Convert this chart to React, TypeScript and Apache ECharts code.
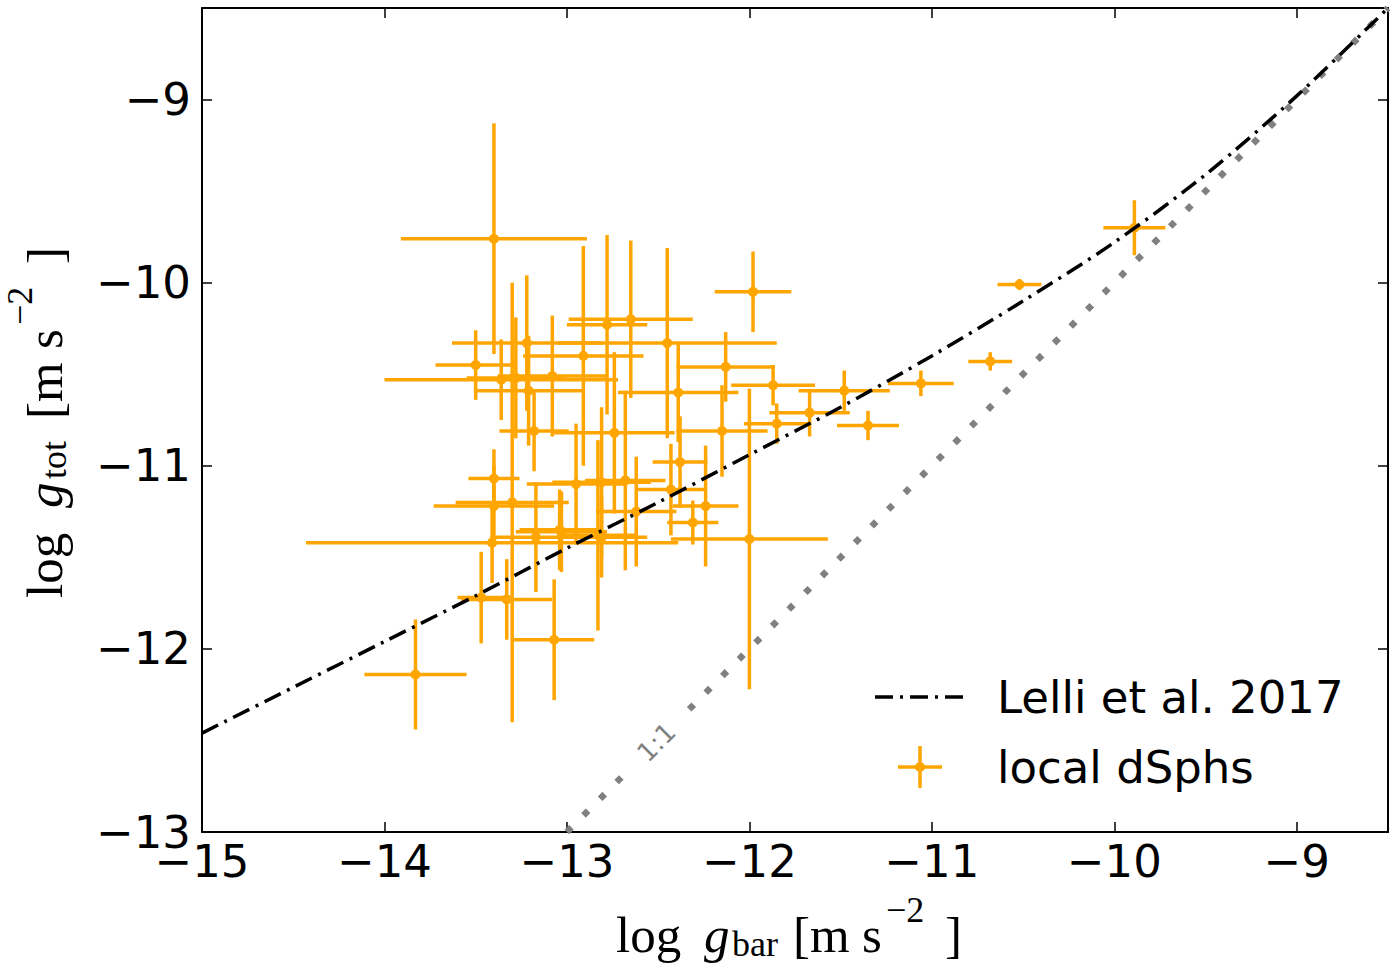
import React, { useEffect, useRef } from "react";
import * as echarts from "echarts";

// ---- axis ticks ----
const xTickValues = [-15, -14, -13, -12, -11, -10, -9];
const yTickValues = [-13, -12, -11, -10, -9];

// ---- local dSphs (log g_bar, log g_tot, errors) ----
const dsphLogGbar = [
  -13.40, -11.98, -10.52, -9.89, -10.68, -11.06, -11.48, -11.35, -11.67, -11.87,
  -11.85, -12.15, -12.13, -13.50, -13.22, -12.45, -12.65, -12.91, -12.78, -12.39,
  -13.08, -13.28, -13.21, -13.36, -13.18, -12.74, -13.40, -13.30, -13.40, -12.95,
  -12.81, -12.68, -12.43, -12.38, -12.24, -12.31, -12.00, -13.03, -13.41, -12.81,
  -13.17, -13.47, -13.33, -13.07, -13.83, -12.62, -12.83, -13.04,
];
const dsphLogGtot = [
  -9.76, -10.05, -10.01, -9.70, -10.43, -10.55, -10.59, -10.78, -10.71, -10.56,
  -10.77, -10.81, -10.46, -10.45, -10.33, -10.33, -10.20, -10.40, -10.23, -10.60,
  -10.51, -10.52, -10.59, -10.53, -10.81, -10.82, -11.07, -11.20, -11.22, -11.10,
  -11.09, -11.08, -11.13, -10.98, -11.22, -11.31, -11.40, -11.36, -11.42, -11.39,
  -11.39, -11.72, -11.73, -11.95, -12.14, -11.25, -11.38, -11.35,
];
const dsphErrGbar = [
  0.51, 0.21, 0.12, 0.17, 0.12, 0.18, 0.25, 0.17, 0.22, 0.23,
  0.18, 0.25, 0.27, 0.22, 0.41, 0.60, 0.34, 0.33, 0.22, 0.33,
  0.30, 0.27, 0.30, 0.64, 0.19, 0.33, 0.14, 0.31, 0.33, 0.27,
  0.27, 0.22, 0.19, 0.15, 0.18, 0.14, 0.43, 0.25, 1.02, 0.25,
  0.25, 0.13, 0.25, 0.22, 0.28, 0.22, 0.22, 0.22,
];
const dsphErrGtot = [
  0.63, 0.22, 0.03, 0.15, 0.05, 0.07, 0.11, 0.08, 0.13, 0.11,
  0.11, 0.25, 0.19, 0.19, 0.37, 0.52, 0.43, 0.60, 0.49, 0.27,
  0.33, 0.33, 0.30, 0.22, 0.22, 0.44, 0.16, 1.20, 0.22, 0.33,
  0.41, 0.49, 0.25, 0.25, 0.33, 0.12, 0.82, 0.22, 0.22, 0.22,
  0.30, 0.25, 0.22, 0.33, 0.30, 0.30, 0.52, 0.22,
];

// ---- Lelli et al. 2017 relation ----
const lelliLogGbar = [-15, -14.5, -14, -13.5, -13, -12.5, -12, -11.5, -11, -10.5, -10, -9.5, -9, -8.5];
const lelliLogGtot = [-12.46, -12.21, -11.96, -11.71, -11.45, -11.2, -10.94, -10.68, -10.4, -10.1, -9.78, -9.41, -8.98, -8.5];

// ---- 1:1 line (broken where its label sits) ----
const oneToOneLower = [-13, -12.64];
const oneToOneUpper = [-12.33, -8.5];
const oneToOneLabelAt = -12.51;

const ORANGE = "#FFA500";
const DASHDOT = [18, 7, 3, 7];

const fmt = (v: number) => (Number.isInteger(v) && xTickValues.concat(yTickValues).includes(v) ? String(v).replace("-", "\u2212") : "");

type Part = { t: string; dx: number; base: number; size: number; italic?: boolean };

function mathLabel(x: number, y: number, rotation: number, parts: Part[]) {
  return {
    type: "group",
    x,
    y,
    rotation,
    children: parts.map((p) => ({
      type: "text",
      x: p.dx,
      y: p.base - 0.34 * p.size,
      style: {
        text: p.t,
        fill: "#000",
        fontFamily: "Liberation Serif",
        fontSize: p.size,
        fontStyle: p.italic ? "italic" : "normal",
        align: "left",
        verticalAlign: "middle",
        textAlign: "left",
        textVerticalAlign: "middle",
      },
    })),
  };
}

export default function App() {
  const ref = useRef<HTMLDivElement>(null);
  useEffect(() => {
    document.body.style.margin = "0";
    const chart = echarts.init(ref.current!, null, { renderer: "svg" });

    const errData = dsphLogGbar.map((x, i) => [x, dsphLogGtot[i], dsphErrGbar[i], dsphErrGtot[i]]);
    const axisCommon = {
      type: "value",
      interval: 1,
      splitLine: { show: false },
      axisLine: { onZero: false, lineStyle: { color: "#000", width: 2 } },
      axisTick: { inside: true, length: 10, lineStyle: { color: "#000", width: 1.5 } },
    };

    chart.setOption({
      animation: false,
      backgroundColor: "#fff",
      grid: { left: 202, top: 8, right: 1, bottom: 138 },
      xAxis: [
        {
          ...axisCommon,
          min: -15,
          max: -8.5,
          position: "bottom",
          axisLabel: { formatter: fmt, fontFamily: "DejaVu Sans", fontSize: 45, color: "#000", margin: 7 },
        },
        { ...axisCommon, min: -15, max: -8.5, position: "top", axisLabel: { show: false } },
      ],
      yAxis: [
        {
          ...axisCommon,
          min: -13,
          max: -8.5,
          position: "left",
          axisLabel: { formatter: fmt, fontFamily: "DejaVu Sans", fontSize: 45, color: "#000", margin: 11 },
        },
        { ...axisCommon, min: -13, max: -8.5, position: "right", axisLabel: { show: false } },
      ],
      series: [
        {
          type: "line",
          data: [[oneToOneLower[0], oneToOneLower[0]], [oneToOneLower[1], oneToOneLower[1]]],
          symbol: "none",
          lineStyle: { color: "#808080", width: 6.5, type: [6.5, 17], cap: "butt" },
          z: 1,
        },
        {
          type: "line",
          data: [[oneToOneUpper[0], oneToOneUpper[0]], [oneToOneUpper[1], oneToOneUpper[1]]],
          symbol: "none",
          lineStyle: { color: "#808080", width: 6.5, type: [6.5, 17], cap: "butt" },
          z: 1,
        },
        {
          type: "custom",
          data: errData,
          encode: { x: 0, y: 1 },
          z: 2,
          renderItem: (params: any, api: any) => {
            const x = api.value(0), y = api.value(1), xe = api.value(2), ye = api.value(3);
            const c = api.coord([x, y]);
            const l = api.coord([x - xe, y]);
            const r = api.coord([x + xe, y]);
            const t = api.coord([x, y + ye]);
            const b = api.coord([x, y - ye]);
            const st = { stroke: ORANGE, lineWidth: 3.5 };
            return {
              type: "group",
              children: [
                { type: "line", shape: { x1: l[0], y1: l[1], x2: r[0], y2: r[1] }, style: st },
                { type: "line", shape: { x1: t[0], y1: t[1], x2: b[0], y2: b[1] }, style: st },
                { type: "circle", shape: { cx: c[0], cy: c[1], r: 5 }, style: { fill: ORANGE } },
              ],
            };
          },
        },
        {
          type: "line",
          data: lelliLogGbar.map((x, i) => [x, lelliLogGtot[i]]),
          symbol: "none",
          smooth: 0.3,
          lineStyle: { color: "#000", width: 3.5, type: DASHDOT },
          z: 5,
        },
      ],
    });

    const lp = chart.convertToPixel({ gridIndex: 0 }, [oneToOneLabelAt, oneToOneLabelAt]) as number[];

    const xParts: Part[] = [
      { t: "log", dx: -1, base: 0, size: 51 },
      { t: "g", dx: 87, base: 0, size: 51, italic: true },
      { t: "bar", dx: 115, base: 4, size: 36 },
      { t: "[m", dx: 176, base: 0, size: 51 },
      { t: "s", dx: 245, base: 0, size: 51 },
      { t: "\u22122", dx: 269, base: -30, size: 36 },
      { t: "]", dx: 328, base: 0, size: 51 },
    ];
    const yParts: Part[] = [
      { t: "log", dx: -1, base: 0, size: 51 },
      { t: "g", dx: 89, base: 0, size: 51, italic: true },
      { t: "tot", dx: 118, base: 4, size: 36 },
      { t: "[m", dx: 178, base: 0, size: 51 },
      { t: "s", dx: 248, base: 0, size: 51 },
      { t: "\u22122", dx: 272, base: -30, size: 36 },
      { t: "]", dx: 333, base: 0, size: 51 },
    ];

    chart.setOption({
      graphic: [
        mathLabel(617, 952, 0, xParts),
        mathLabel(62, 597, Math.PI / 2, yParts),
        {
          type: "text",
          x: lp[0],
          y: lp[1],
          rotation: Math.PI / 4,
          style: {
            text: "1:1",
            fill: "#808080",
            fontFamily: "DejaVu Sans",
            fontSize: 26,
            align: "center",
            verticalAlign: "middle",
            textAlign: "center",
            textVerticalAlign: "middle",
          },
        },
        // legend
        { type: "line", shape: { x1: 875, y1: 697, x2: 965, y2: 697 }, style: { stroke: "#000", lineWidth: 3.5, lineDash: DASHDOT } },
        {
          type: "text",
          x: 997,
          y: 697,
          style: { text: "Lelli et al. 2017", fill: "#000", fontFamily: "DejaVu Sans", fontSize: 45, align: "left", verticalAlign: "middle", textAlign: "left", textVerticalAlign: "middle" },
        },
        { type: "line", shape: { x1: 898, y1: 767, x2: 942, y2: 767 }, style: { stroke: ORANGE, lineWidth: 3.5 } },
        { type: "line", shape: { x1: 920, y1: 746, x2: 920, y2: 788 }, style: { stroke: ORANGE, lineWidth: 3.5 } },
        { type: "circle", shape: { cx: 920, cy: 767, r: 5 }, style: { fill: ORANGE } },
        {
          type: "text",
          x: 997,
          y: 767,
          style: { text: "local dSphs", fill: "#000", fontFamily: "DejaVu Sans", fontSize: 45, align: "left", verticalAlign: "middle", textAlign: "left", textVerticalAlign: "middle" },
        },
      ],
    });

    return () => chart.dispose();
  }, []);
  return <div ref={ref} style={{ width: 1391, height: 970 }} />;
}
